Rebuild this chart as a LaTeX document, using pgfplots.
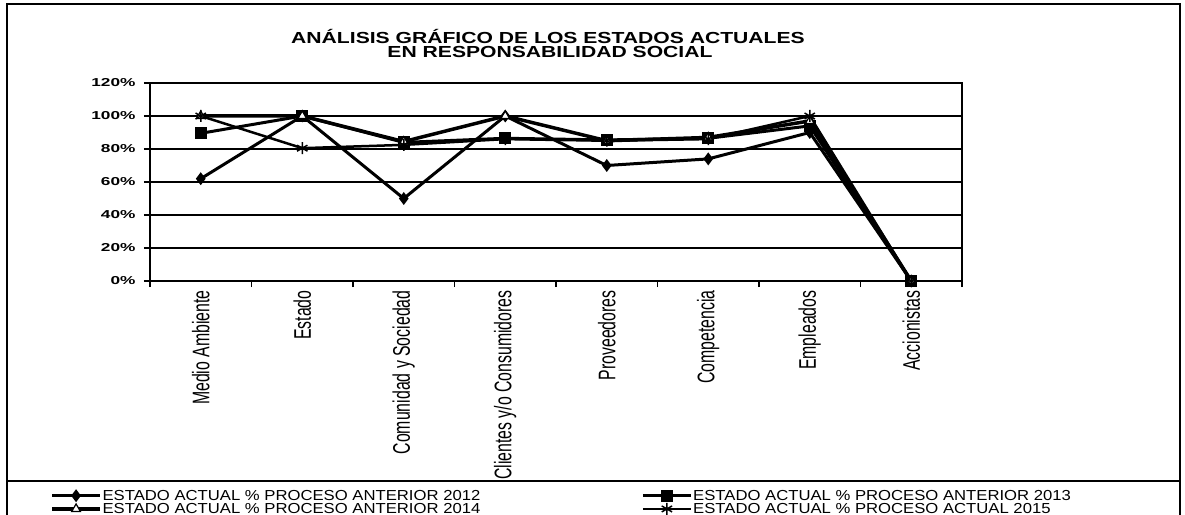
\documentclass[border=0pt]{standalone}
\usepackage{fontspec}
\setmainfont{Liberation Sans}
\newfontfamily\titlefont[FakeStretch=1.32]{Liberation Sans}
\newfontfamily\yfont[FakeStretch=1.5]{Liberation Sans}
\newfontfamily\xfont[FakeStretch=0.66]{Liberation Sans}
\newfontfamily\legfont[FakeStretch=1.15]{Liberation Sans}
\usepackage{pgfplots}
\pgfplotsset{compat=1.18}
\begin{document}
\begin{tikzpicture}[x=1bp,y=1bp]
\useasboundingbox (0bp,0bp) rectangle (1185bp,515bp);
% frame
\draw[black, line width=1.5bp] (7bp,-5bp) -- (7bp,511bp) -- (1180bp,511bp) -- (1180bp,-5bp);
\draw[black, line width=1.5bp] (7bp,34bp) -- (1180bp,34bp);
% title
\node[anchor=base, inner sep=0pt] at (548bp,471bp) {\titlefont\fontsize{16bp}{18bp}\selectfont\bfseries ANÁLISIS GRÁFICO DE LOS ESTADOS ACTUALES};
\node[anchor=base, inner sep=0pt] at (550bp,457bp) {\titlefont\fontsize{16bp}{18bp}\selectfont\bfseries EN RESPONSABILIDAD SOCIAL};
\begin{axis}[
  at={(150bp,234bp)}, anchor=south west,
  scale only axis, width=812bp, height=198bp,
  xmin=-0.5, xmax=7.5, ymin=0, ymax=120,
  ytick={0,20,...,120},
  yticklabels={0\%,20\%,40\%,60\%,80\%,100\%,120\%},
  yticklabel style={font=\yfont\bfseries\fontsize{11.5bp}{13bp}\selectfont, xshift=-5bp},
  xtick={-0.5,0.5,...,7.5}, xticklabels={},
  extra x ticks={0,1,2,3,4,5,6,7},
  extra x tick labels={Medio Ambiente,Estado,Comunidad y Sociedad,Clientes y/o Consumidores,Proveedores,Competencia,Empleados,Accionistas},
  extra x tick style={tick style={draw=none}},
  xticklabel style={rotate=90, anchor=east, font=\xfont\fontsize{24bp}{26bp}\selectfont},
  tick align=outside, major tick length=6bp,
  xtick pos=bottom, ytick pos=left,
  tick style={black, line width=1.5bp},
  ymajorgrids, grid style={black, line width=1.3bp},
  axis line style={black, line width=2bp},
  clip=false,
  legend columns=2,
  legend style={at={(-0.123,-1.05)}, anchor=north west, draw=none, fill=none,
    font=\legfont\fontsize{14.5bp}{15bp}\selectfont, inner sep=0pt, row sep=0bp,
    nodes={inner sep=0.8bp}},
  legend cell align=left,
  legend image code/.code={\draw[mark repeat=2,mark phase=2,#1] plot coordinates {(0bp,0bp) (24bp,0bp) (48bp,0bp)};},
]
\addplot[black, line width=3bp, mark=diamond*, mark size=4bp, mark options={solid}]
  coordinates {(0,62) (1,100) (2,50) (3,100) (4,70) (5,74) (6,90) (7,0)};
\addlegendentry{\makebox[538bp][l]{ESTADO ACTUAL \% PROCESO ANTERIOR 2012}}
\addplot[black, line width=3bp, mark=square*, mark size=4.5bp, mark options={solid}]
  coordinates {(0,89.5) (1,100) (2,84) (3,86.5) (4,85.5) (5,86.5) (6,94) (7,0)};
\addlegendentry{ESTADO ACTUAL \% PROCESO ANTERIOR 2013}
\addplot[black, line width=3.5bp, mark=triangle*, mark size=5bp, mark options={solid, fill=white, draw=black, line width=1.2bp}]
  coordinates {(0,100) (1,100) (2,84.5) (3,100) (4,85) (5,87) (6,97) (7,0)};
\addlegendentry{\makebox[538bp][l]{ESTADO ACTUAL \% PROCESO ANTERIOR 2014}}
\addplot[black, line width=2.5bp, mark=asterisk, mark size=6bp, mark options={solid, line width=1.5bp}]
  coordinates {(0,100) (1,80.5) (2,82.5) (3,86) (4,85) (5,86) (6,100) (7,0)};
\addlegendentry{ESTADO ACTUAL \% PROCESO ACTUAL 2015}
\end{axis}
\end{tikzpicture}
\end{document}
